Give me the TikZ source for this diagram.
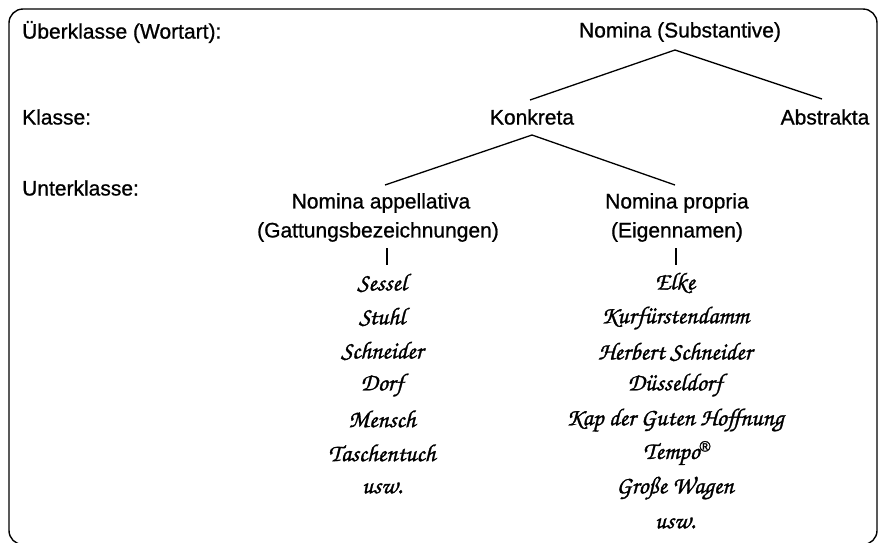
\documentclass[tikz,border=0pt]{standalone}
\usepackage{fontspec}
\setmainfont{Liberation Sans}[FakeBold=0.9]
\newfontfamily\chancery{TeX Gyre Chorus}[FakeBold=1.2]
\newfontfamily\regfont{Liberation Sans}[FakeBold=1.5]
\begin{document}
\begin{tikzpicture}[x=1pt,y=-1pt,
  lbl/.style={font=\fontsize{21}{24}\selectfont, inner sep=0pt},
  cat/.style={font=\fontsize{21}{24}\selectfont, inner sep=0pt, align=center},
  ex/.style={font=\chancery\fontsize{24.5}{28}\selectfont, inner sep=0pt},
  edge/.style={line width=1.3pt},
  frame/.style={line width=1.4pt, rounded corners=14pt}]
\useasboundingbox (0,0) rectangle (878,542);
\draw[frame] (9,9) rectangle (877,544.5);
% level labels
\node[lbl, anchor=west] (l1) at (22,32) {Überklasse (Wortart):};
\node[lbl, anchor=west] (l2) at (22,117) {Klasse:};
\node[lbl, anchor=west] (l3) at (22,188) {Unterklasse:};
% tree
\node[cat] (nom) at (680,32) {Nomina (Substantive)};
\node[cat] (kon) at (532,117) {Konkreta};
\node[cat] (abs) at (825,117) {Abstrakta};
\node[cat] (app) at (381,203) {Nomina appellativa};
\node[cat] (gat) at (378,232) {(Gattungsbezeichnungen)};
\node[cat] (pro) at (677,203) {Nomina propria};
\node[cat] (eig) at (677,232) {(Eigennamen)};
\coordinate (a1) at (675,50);
\coordinate (a1l) at (530,100);
\coordinate (a1r) at (822,99);
\coordinate (a2) at (532,135);
\coordinate (a2l) at (385,185);
\coordinate (a2r) at (675,185);
\draw[edge] (a1l) -- (a1) -- (a1r);
\draw[edge] (a2l) -- (a2) -- (a2r);
\coordinate (t1a) at (387,248);
\coordinate (t1b) at (387,265);
\coordinate (t2a) at (676,248);
\coordinate (t2b) at (676,265);
\draw[edge] (t1a) -- (t1b);
\draw[edge] (t2a) -- (t2b);
% examples left
\node[ex] (s1) at (382,283) {Sessel};
\node[ex] (s2) at (382,317) {Stuhl};
\node[ex] (s3) at (382,351) {Schneider};
\node[ex] (s4) at (382,385) {Dorf};
\node[ex] (s5) at (382,419) {Mensch};
\node[ex] (s6) at (382,453) {Taschentuch};
\node[ex] (s7) at (382,488) {usw.};
% examples right
\node[ex] (r1) at (675,283) {Elke};
\node[ex] (r2) at (675,318) {Kurfürstendamm};
\node[ex] (r3) at (675,352) {Herbert Schneider};
\node[ex] (r4) at (675,385) {Düsseldorf};
\node[ex] (r5) at (675,420) {Kap der Guten Hoffnung};
\node[ex] (r6) at (677,453) {Tempo\raisebox{0.3em}{\regfont\fontsize{15}{15}\selectfont ®}};
\node[ex] (r7) at (675,488) {Große Wagen};
\node[ex] (r8) at (675,523) {usw.};
\end{tikzpicture}
\end{document}
